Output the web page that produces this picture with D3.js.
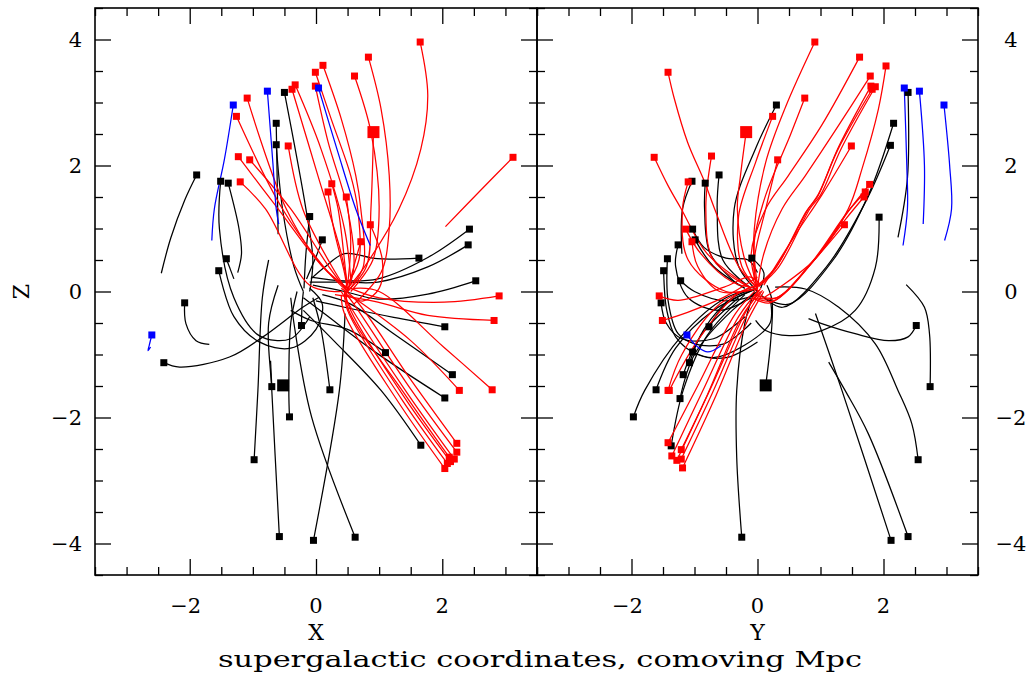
<!DOCTYPE html>
<html>
<head>
<meta charset="utf-8">
<script src="https://cdn.jsdelivr.net/npm/d3@7/dist/d3.min.js"></script>
<style>
  body { margin: 0; background: #fff; }
  text { font-family: "DejaVu Serif", serif; fill: #000; }
</style>
</head>
<body>
<svg id="chart" width="1034" height="677"></svg>
<script>
// ---------------- DATA ----------------
const xDomain = [-3.5, 3.5];
const yDomain = [-3.5, 3.5];
const zDomain = [-4.5, 4.5];
const hTickLabels = [-2, 0, 2];
const zTickLabels = [-4, -2, 0, 2, 4];

// Orbits in the X–Z plane; first point is the present position (square)
const redXZ = [
  [[1.65,3.96],[1.77,3.12],[1.66,2.26],[1.31,1.3],[0.76,0.38],[0.5,0.05]],
  [[0.83,3.72],[1.03,2.9],[1.16,1.84],[1.16,1.0],[1.03,0.3],[0.6,-0.2]],
  [[0.11,3.59],[0.4,2.74],[0.63,1.84],[0.71,1.31],[0.75,0.4],[0.5,0.0]],
  [[-0.01,3.48],[0.24,2.74],[0.55,1.84],[0.66,1.31],[0.68,0.5],[0.45,0.05]],
  [[0.61,3.42],[0.87,2.53],[1.0,1.31],[0.9,0.5],[0.55,0.0]],
  [[-0.33,3.28],[0.08,2.26],[0.45,1.0],[0.55,0.2]],
  [[-0.01,3.26],[0.19,2.38],[0.5,1.31],[0.6,0.4],[0.5,0.0]],
  [[-0.38,3.21],[0.03,1.84],[0.4,0.6],[0.5,0.1]],
  [[-1.09,3.07],[-0.47,1.31],[0.1,0.4],[0.5,0.05]],
  [[-1.26,2.78],[-0.53,1.31],[0.2,0.3],[0.5,0.0]],
  [[0.91,2.53],[0.87,1.31],[0.8,0.4],[0.5,0.0]],
  [[-0.44,2.31],[-0.21,1.31],[0.25,0.4],[0.5,0.0]],
  [[-1.23,2.14],[-0.6,1.31],[0.1,0.4],[0.5,0.05]],
  [[-1.05,2.09],[-0.4,1.31],[0.2,0.4],[0.5,0.0]],
  [[-1.2,1.74],[-0.8,1.31],[-0.1,0.1],[0.4,0.0]],
  [[3.12,2.13],[2.6,1.6],[2.05,1.03]],
  [[0.25,1.71],[0.35,1.31],[0.45,0.5],[0.5,0.0]],
  [[0.19,1.58],[0.28,1.0],[0.45,0.3],[0.5,0.0]],
  [[0.48,1.5],[0.55,0.8],[0.5,0.1]],
  [[0.86,1.06],[1.05,0.5],[1.0,0.05],[0.75,-0.15],[0.5,-0.05]],
  [[0.71,0.79],[0.6,0.4],[0.5,0.0]],
  [[2.9,-0.07],[2.03,-0.17],[1.0,-0.1],[0.55,0.05]],
  [[2.82,-0.46],[1.77,-0.38],[0.98,-0.17],[0.3,-0.05]],
  [[2.27,-1.57],[1.5,-0.78],[0.6,-0.1]],
  [[2.79,-1.56],[2.02,-0.88],[1.0,0.0],[0.6,0.05]],
  [[2.23,-2.41],[1.5,-1.4],[0.6,-0.1],[0.4,0.05]],
  [[2.23,-2.55],[1.5,-1.55],[0.6,-0.2],[0.45,0.0]],
  [[2.19,-2.66],[1.45,-1.62],[0.55,-0.25],[0.4,0.0]],
  [[2.11,-2.63],[1.4,-1.62],[0.5,-0.25],[0.5,0.05]],
  [[2.08,-2.73],[1.35,-1.7],[0.5,-0.3],[0.45,0.0]],
  [[2.04,-2.81],[1.3,-1.75],[0.45,-0.35],[0.4,-0.05]],
  [[2.13,-2.7],[1.4,-1.68],[0.55,-0.3],[0.45,0.0]]
];
const blueXZ = [
  [[-1.31,2.96],[-1.45,2.1],[-1.61,1.31],[-1.65,0.81]],
  [[-0.77,3.18],[-0.68,2.0],[-0.63,1.31],[-0.59,1.07]],
  [[0.04,3.23],[0.35,2.2],[0.63,1.31],[0.86,0.73]],
  [[-2.6,-0.69],[-2.64,-0.85],[-2.66,-0.94],[-2.62,-0.88]]
];
const blackXZ = [
  [[-1.89,1.85],[-2.08,1.45],[-2.3,0.85],[-2.45,0.29]],
  [[-1.51,1.75],[-1.53,1.0],[-1.3,-0.1],[-0.9,-0.7],[-0.4,-0.75],[-0.1,-0.4]],
  [[-1.39,1.72],[-1.22,1.0],[-1.18,0.6],[-1.24,0.3]],
  [[-0.63,2.67],[-0.61,1.5],[-0.6,0.91]],
  [[-0.63,2.33],[-0.53,1.31],[-0.35,0.4],[-0.2,0.0]],
  [[-0.5,3.16],[-0.16,1.31],[-0.05,0.5],[-0.1,0.0]],
  [[-0.1,1.19],[-0.16,0.6],[-0.19,0.05]],
  [[0.1,0.82],[0.0,0.55],[-0.15,0.2]],
  [[1.63,0.53],[0.97,0.52],[0.45,0.6],[0.13,0.38],[-0.08,0.2]],
  [[2.43,0.99],[1.77,0.54],[0.98,0.2],[0.45,0.17],[-0.08,0.23]],
  [[2.41,0.74],[1.77,0.39],[0.98,0.15],[0.45,0.15],[-0.1,0.15]],
  [[2.53,0.17],[1.77,-0.04],[0.98,-0.12],[0.45,0.0],[-0.05,0.1]],
  [[2.04,-0.56],[1.23,-0.41],[0.45,-0.25],[0.0,-0.15]],
  [[1.1,-0.97],[0.5,-0.6],[-0.08,-0.46],[-0.4,-0.3]],
  [[2.16,-1.32],[1.23,-0.67],[0.55,-0.2],[0.1,-0.05]],
  [[2.04,-1.69],[0.98,-0.99],[0.13,-0.35],[-0.2,-0.1]],
  [[0.22,-1.56],[0.08,-0.6],[-0.05,-0.1]],
  [[1.66,-2.44],[1.03,-1.57],[0.3,-0.8],[-0.2,-0.3]],
  [[0.62,-3.9],[-0.07,-1.99],[-0.35,-0.5],[-0.4,-0.1]],
  [[-0.04,-3.95],[0.37,-1.57],[0.46,-0.35]],
  [[-0.58,-3.89],[-0.7,-1.57],[-0.75,-0.5],[-0.6,0.1]],
  [[-0.98,-2.67],[-0.92,-1.57],[-0.85,-0.1],[-0.75,0.5]],
  [[-0.42,-1.99],[-0.43,-1.57],[-0.4,-0.5],[-0.3,0.0]],
  [[-0.7,-1.51],[-0.72,-1.1]],
  [[-0.23,-0.54],[-0.22,-0.2],[-0.2,0.0]],
  [[-1.42,0.52],[-1.3,0.2]],
  [[-1.54,0.33],[-1.3,-0.4],[-0.9,-0.8],[-0.4,-0.9],[0.0,-0.6],[0.1,-0.2],[-0.1,0.05]],
  [[-2.08,-0.18],[-2.06,-0.51],[-1.9,-0.78],[-1.69,-0.84]],
  [[-2.41,-1.13],[-2.16,-1.2],[-1.37,-1.04],[-0.84,-0.72],[-0.21,-0.25],[0.05,-0.09]]
];
const bigXZ = [[0.91,2.53,"red"],[-0.52,-1.49,"black"]];
const bigYZ = [[-0.18,2.53,"red"],[0.13,-1.49,"black"]];

// Orbits in the Y–Z plane
const redYZ = [
  [[0.91,3.96],[0.45,2.94],[0.13,2.05],[-0.05,1.0],[-0.05,0.2]],
  [[1.62,3.72],[1.02,2.64],[0.49,1.84],[0.13,1.31],[-0.1,0.6],[0.0,0.05]],
  [[2.04,3.58],[1.92,2.9],[1.66,1.95],[1.44,1.31],[0.9,0.5],[0.1,-0.1]],
  [[-1.42,3.48],[-1.32,3.06],[-1.11,2.37],[-0.84,1.74],[-0.68,1.31],[-0.3,0.4],[0.0,0.05]],
  [[1.79,3.42],[1.29,2.64],[0.76,1.84],[0.39,1.31],[0.1,0.6],[0.0,0.05]],
  [[1.8,3.26],[1.29,2.3],[0.97,1.55],[0.8,1.3],[0.3,0.4],[0.0,0.1]],
  [[1.87,3.25],[1.33,2.27],[1.0,1.53],[0.83,1.31],[0.33,0.38],[0.02,0.08]],
  [[1.82,3.21],[1.27,2.24],[0.95,1.5],[0.78,1.28],[0.28,0.36],[-0.02,0.06]],
  [[0.75,3.07],[0.52,2.48],[0.13,1.53],[-0.05,0.8],[0.0,0.1]],
  [[0.24,2.78],[-0.03,2.05],[-0.3,1.2],[-0.25,0.4],[0.0,0.05]],
  [[-0.18,2.53],[-0.27,1.84],[-0.32,1.31],[-0.2,0.5],[0.0,0.05]],
  [[1.49,2.31],[1.02,1.53],[0.6,0.9],[0.1,0.1]],
  [[-1.64,2.13],[-1.42,1.68],[-1.21,1.31],[-0.8,0.6],[-0.1,0.05]],
  [[-0.73,2.15],[-0.82,1.31],[-0.7,0.5],[-0.1,0.05]],
  [[0.32,2.09],[0.13,1.31],[-0.05,0.5],[0.0,0.0]],
  [[-1.1,1.74],[-1.19,1.31],[-1.1,0.5],[-0.5,0.0],[0.0,0.05]],
  [[1.78,1.7],[1.47,1.31],[0.9,0.5],[0.3,-0.1],[-0.05,-0.05]],
  [[1.71,1.58],[1.42,1.25],[0.85,0.45],[0.25,-0.15],[-0.05,-0.1]],
  [[1.69,1.5],[1.4,1.15],[0.8,0.38],[0.2,-0.18],[-0.08,-0.1]],
  [[1.38,1.06],[0.9,0.5],[0.3,-0.1],[0.0,-0.1]],
  [[-1.14,0.99],[-0.9,0.6],[-0.4,0.15],[0.0,0.05]],
  [[-1.04,0.79],[-0.95,0.4],[-0.6,0.0],[0.0,0.05]],
  [[-1.56,-0.07],[-1.26,-0.14],[-0.53,0.07],[-0.11,0.23],[0.05,0.1]],
  [[-1.51,-0.46],[-1.11,-0.33],[-0.53,-0.09],[0.0,0.23]],
  [[-1.4,-1.57],[-0.95,-0.78],[-0.32,-0.04],[0.0,0.1]],
  [[-1.42,-1.57],[-1.2,-1.0],[-0.6,-0.2],[0.0,0.1]],
  [[-1.42,-2.4],[-0.95,-1.5],[-0.35,-0.35],[0.0,0.05]],
  [[-1.36,-2.61],[-0.88,-1.6],[-0.3,-0.4],[0.02,0.02]],
  [[-1.21,-2.51],[-0.75,-1.55],[-0.2,-0.35],[0.05,0.05]],
  [[-1.28,-2.68],[-0.8,-1.65],[-0.25,-0.4],[0.05,0.0]],
  [[-1.21,-2.66],[-0.72,-1.62],[-0.18,-0.4],[0.08,0.02]],
  [[-1.19,-2.8],[-0.68,-1.7],[-0.15,-0.45],[0.1,0.0]]
];
const blueYZ = [
  [[2.33,3.23],[2.37,2.0],[2.38,1.31],[2.31,0.73]],
  [[2.57,3.18],[2.65,2.0],[2.63,1.07]],
  [[2.96,2.96],[3.05,2.0],[3.08,1.31],[2.97,0.81]],
  [[-1.12,-0.69],[-0.95,-0.88],[-0.79,-0.96],[-0.58,-0.86]]
];
const blackYZ = [
  [[2.39,3.16],[2.38,1.8],[2.23,0.86]],
  [[0.3,2.96],[-0.03,2.27],[-0.37,1.31],[-0.3,0.4],[0.0,0.0]],
  [[2.16,2.67],[1.76,1.53],[1.2,0.5],[0.5,-0.2],[0.1,-0.1]],
  [[2.11,2.32],[1.73,1.45],[1.1,0.4],[0.4,-0.25],[0.05,-0.05]],
  [[1.93,1.18],[1.87,0.38],[1.55,-0.3],[1.02,-0.62],[0.5,-0.7],[0.13,-0.62],[-0.03,-0.46]],
  [[2.52,-0.54],[2.39,-0.72],[2.08,-0.78],[1.55,-0.67],[1.02,-0.51],[0.81,-0.43]],
  [[2.74,-1.51],[2.73,-0.67],[2.65,-0.25],[2.36,0.11]],
  [[0.13,-1.49],[0.21,-0.78],[0.23,-0.14],[0.15,0.1]],
  [[2.55,-2.67],[2.45,-2.1],[2.23,-1.57],[1.87,-0.83],[1.29,-0.25],[0.76,0.04],[0.28,0.07]],
  [[2.12,-3.95],[1.34,-1.57],[0.92,-0.35]],
  [[2.39,-3.89],[1.76,-2.26],[1.39,-1.57],[1.13,-1.12]],
  [[-0.25,-3.9],[-0.33,-2.63],[-0.33,-1.57],[-0.2,-0.5],[-0.05,0.0]],
  [[-1.97,-1.99],[-1.79,-1.57],[-1.2,-0.7],[-0.5,-0.1],[0.0,0.05]],
  [[-1.23,-1.7],[-1.0,-1.0],[-0.4,-0.3],[0.0,0.0]],
  [[-1.37,-2.45],[-1.18,-1.57],[-0.8,-0.7],[-0.2,-0.05]],
  [[-1.61,-1.56],[-1.3,-0.9],[-0.7,-0.3],[0.0,0.05]],
  [[-1.18,-1.32],[-0.9,-0.7],[-0.3,-0.1]],
  [[-1.08,-1.13],[-0.85,-0.6],[-0.4,-0.1],[0.0,0.05]],
  [[-1.03,-0.96],[-0.7,-1.05],[-0.2,-0.85],[0.2,-0.5],[0.2,-0.1]],
  [[-0.77,-0.56],[-0.5,-0.2],[0.0,0.05]],
  [[-1.03,0.99],[-0.85,0.7],[-0.5,0.53],[-0.15,0.5],[0.0,0.3]],
  [[-0.09,0.53],[0.1,0.3],[0.05,0.05]],
  [[-0.99,0.82],[-0.7,0.4],[-0.2,0.05]],
  [[-1.26,0.74],[-1.3,0.4],[-1.1,-0.1],[-0.6,-0.3],[-0.1,-0.1]],
  [[-1.43,0.52],[-1.42,-0.14],[-1.26,-0.67],[-1.0,-0.83],[-0.53,-0.83],[-0.1,-0.5]],
  [[-1.49,0.33],[-1.44,-0.3],[-1.3,-0.72],[-0.95,-1.0],[-0.5,-1.05],[0.0,-0.8]],
  [[-1.22,0.17],[-1.0,0.0],[-0.5,-0.15],[0.0,-0.05]],
  [[-1.53,-0.18],[-1.45,-0.5],[-1.2,-0.75],[-0.7,-0.75],[-0.2,-0.4]],
  [[-0.61,1.85],[-0.64,1.31],[-0.55,0.5],[-0.1,0.05]],
  [[-1.04,1.75],[-1.19,1.31],[-1.2,0.6]],
  [[-0.83,1.72],[-0.84,1.31],[-0.75,0.6],[-0.3,0.1]]
];

const axisLabels = { left: "X", right: "Y", z: "Z", caption: "supergalactic coordinates, comoving Mpc" };

// ---------------- DRAW ----------------
const svg = d3.select("#chart");
const yTop = 8, yBot = 575;
const panels = [
  { x0: 95, x1: 537, dom: xDomain, red: redXZ, blue: blueXZ, black: blackXZ, big: bigXZ, label: axisLabels.left, side: "left" },
  { x0: 537, x1: 978, dom: yDomain, red: redYZ, blue: blueYZ, black: blackYZ, big: bigYZ, label: axisLabels.right, side: "right" }
];
const z = d3.scaleLinear().domain(zDomain).range([yBot, yTop]);
const fmt = d3.format("d");
const allH = d3.range(-3.5, 3.51, 0.5);
const allZ = d3.range(-4.5, 4.51, 0.5);
const isMajor = v => Math.abs(v / 2 - Math.round(v / 2)) < 1e-9;

panels.forEach(p => {
  const x = d3.scaleLinear().domain(p.dom).range([p.x0, p.x1]);
  const g = svg.append("g");
  const clipId = "clip" + p.x0;
  svg.append("clipPath").attr("id", clipId).append("rect")
    .attr("x", p.x0).attr("y", yTop).attr("width", p.x1 - p.x0).attr("height", yBot - yTop);

  const plot = g.append("g").attr("clip-path", `url(#${clipId})`);
  const line = d3.line().x(d => x(d[0])).y(d => z(d[1])).curve(d3.curveCatmullRom.alpha(0.5));

  const drawTracks = (tracks, color) => {
    plot.append("g").selectAll("path").data(tracks.filter(t => t.length > 1)).join("path")
      .attr("d", line).attr("fill", "none").attr("stroke", color).attr("stroke-width", 1.25);
  };
  drawTracks(p.black, "#000");
  drawTracks(p.red, "#ff0000");
  drawTracks(p.blue, "#0000ff");

  const sq = 7;
  const drawSquares = (tracks, color) => {
    plot.append("g").selectAll("rect").data(tracks).join("rect")
      .attr("x", d => x(d[0][0]) - sq / 2).attr("y", d => z(d[0][1]) - sq / 2)
      .attr("width", sq).attr("height", sq).attr("fill", color);
  };
  drawSquares(p.black, "#000");
  drawSquares(p.red, "#ff0000");
  drawSquares(p.blue, "#0000ff");
  const bs = 12;
  plot.append("g").selectAll("rect").data(p.big).join("rect")
    .attr("x", d => x(d[0]) - bs / 2).attr("y", d => z(d[1]) - bs / 2)
    .attr("width", bs).attr("height", bs).attr("fill", d => d[2] === "red" ? "#ff0000" : "#000");

  const axG = g.append("g").attr("stroke-width", 1.3);
  const addAxis = (axisFn, scale, values, size, transform) => {
    const a = axisFn(scale).tickValues(values).tickSize(size).tickFormat("");
    const sel = axG.append("g").attr("transform", transform).call(a);
    sel.select(".domain").remove();
    sel.selectAll("line").attr("stroke", "#000");
  };
  const minH = allH.filter(v => !isMajor(v)), majH = allH.filter(isMajor);
  const minZ = allZ.filter(v => !isMajor(v)), majZ = allZ.filter(isMajor);
  addAxis(d3.axisBottom, x, minH, -8, `translate(0,${yBot})`);
  addAxis(d3.axisBottom, x, majH, -16, `translate(0,${yBot})`);
  addAxis(d3.axisTop, x, minH, -8, `translate(0,${yTop})`);
  addAxis(d3.axisTop, x, majH, -16, `translate(0,${yTop})`);
  addAxis(d3.axisLeft, z, minZ, -8, `translate(${p.x0},0)`);
  addAxis(d3.axisLeft, z, majZ, -16, `translate(${p.x0},0)`);
  addAxis(d3.axisRight, z, minZ, -8, `translate(${p.x1},0)`);
  addAxis(d3.axisRight, z, majZ, -16, `translate(${p.x1},0)`);

  g.append("rect").attr("x", p.x0).attr("y", yTop).attr("width", p.x1 - p.x0).attr("height", yBot - yTop)
    .attr("fill", "none").attr("stroke", "#000").attr("stroke-width", 1.6);

  g.append("g").selectAll("text").data(hTickLabels).join("text")
    .attr("x", d => x(d) - (d < 0 ? 4 : 0)).attr("y", 613).attr("text-anchor", "middle")
    .attr("font-size", 21).text(d => fmt(d));
  const zl = g.append("g").selectAll("text").data(zTickLabels).join("text")
    .attr("y", d => z(d) + 7.5).attr("font-size", 21).text(d => fmt(d));
  if (p.side === "left") zl.attr("x", p.x0 - 13).attr("text-anchor", "end");
  else zl.attr("x", p.x1 + 33).attr("text-anchor", "middle");

  g.append("text").attr("x", x(0)).attr("y", 640).attr("text-anchor", "middle")
    .attr("font-size", 22).text(p.label);
});

svg.append("text").attr("transform", `translate(29,${z(0)}) rotate(-90)`)
  .attr("text-anchor", "middle").attr("font-size", 22).text(axisLabels.z);
svg.append("text").attr("x", 218).attr("y", 667).attr("font-size", 23)
  .attr("textLength", 644).attr("lengthAdjust", "spacingAndGlyphs").text(axisLabels.caption);
</script>
</body>
</html>
